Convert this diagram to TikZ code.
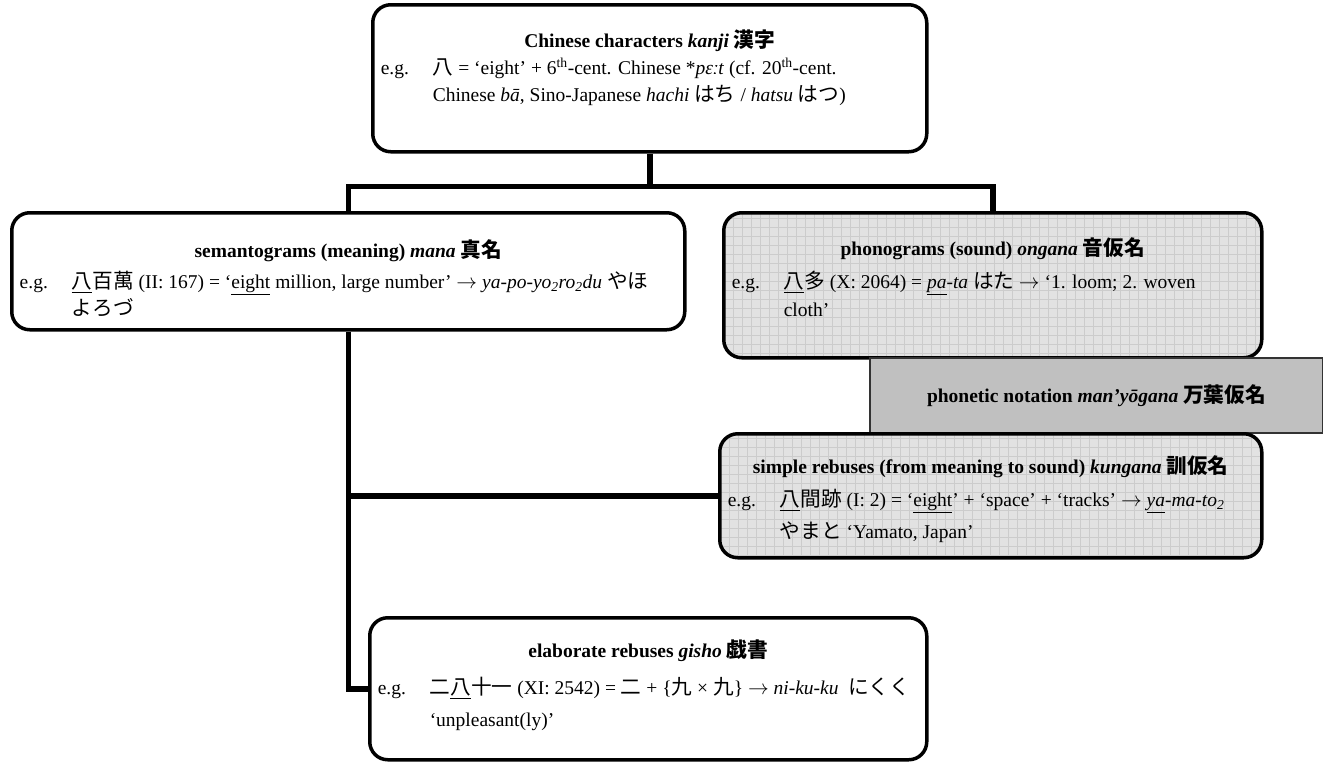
\documentclass[tikz,border=0pt]{standalone}
\usepackage{fontspec}
\setmainfont{Liberation Serif}
\newfontfamily\cjk[Scale=1.06]{Noto Sans CJK JP}
\usetikzlibrary{positioning,calc}

\definecolor{gridfill}{HTML}{E2E2E2}
\definecolor{gridline}{HTML}{CCCCCC}
\definecolor{notefill}{HTML}{C0C0C0}

\newcommand{\jp}[1]{{\cjk #1}}
\newcommand{\arr}{\ensuremath{\rightarrow}}
\newcommand{\eg}{\makebox[52pt][l]{e.g.}}
\newcommand{\ind}{\hspace*{52pt}}
% width, height, top pad, title gap, line skip, title, lines
\newcommand{\boxbody}[7]{%
  \parbox[c][#2][t]{#1}{\vspace*{#3}%
    {\noindent\makebox[\linewidth]{\bfseries\rule{0pt}{20pt}#6}\par}\vspace{#4}%
    {\raggedright\leftskip=8pt\baselineskip=#5 #7\par}}}

\tikzset{
  plainbox/.style={draw, line width=3.5pt, rounded corners=18pt, fill=white,
    anchor=north west, inner sep=0pt, font=\fontsize{19.5}{28}\selectfont},
  gridbox/.style={plainbox, fill=gridfill,
    path picture={\draw[gridline, line width=0.5pt, step=9pt]
      (path picture bounding box.south west) grid (path picture bounding box.north east);}},
  notebox/.style={draw=black!80, line width=2pt, fill=notefill, anchor=north west,
    inner sep=0pt, minimum width=453pt, minimum height=75pt,
    font=\fontsize{19.5}{28}\selectfont\bfseries},
  link/.style={line width=5.5pt}
}

\begin{document}
\begin{tikzpicture}[x=1pt,y=-1pt]
  \useasboundingbox (0,0) rectangle (1323,761);

  % boxes
  \node[plainbox] (kanji) at (371,3) {\boxbody{554pt}{147pt}{23pt}{0pt}{27pt}%
    {Chinese characters \textit{kanji} \jp{漢字}}%
    {\eg\jp{八} = ‘eight’ + 6\textsuperscript{th}-cent. Chinese *\textit{pɛːt} (cf. 20\textsuperscript{th}-cent.\\
     \ind Chinese \textit{bā}, Sino-Japanese \textit{hachi} \jp{はち} / \textit{hatsu} \jp{はつ})}};
  \node[plainbox] (mana) at (10,211) {\boxbody{673pt}{117pt}{25pt}{4pt}{27pt}%
    {semantograms (meaning) \textit{mana} \jp{真名}}%
    {\eg\underline{\jp{八}}\jp{百萬} (II: 167) = ‘\underline{eight} million, large number’ \arr\ \textit{ya-po-yo\textsubscript{2}ro\textsubscript{2}du} \jp{やほ}\\
     \ind\jp{よろづ}}};
  \node[gridbox] (ongana) at (722,211) {\boxbody{538pt}{145pt}{23pt}{5pt}{28pt}%
    {phonograms (sound) \textit{ongana} \jp{音仮名}}%
    {\eg\underline{\jp{八}}\jp{多} (X: 2064) = \textit{\underline{pa}-ta} \jp{はた} \arr\ ‘1. loom; 2. woven\\
     \ind cloth’}};
  \node[notebox] (manyo) at (869,357) {phonetic notation \textit{man’yōgana} \jp{万葉仮名}};
  \node[gridbox] (kungana) at (718,432) {\boxbody{542pt}{124pt}{20pt}{1pt}{32pt}%
    {simple rebuses (from meaning to sound) \textit{kungana} \jp{訓仮名}}%
    {\eg\underline{\jp{八}}\jp{間跡} (I: 2) = ‘\underline{eight}’ + ‘space’ + ‘tracks’ \arr\ \textit{\underline{ya}-ma-to\textsubscript{2}}\\
     \ind\jp{やまと} ‘Yamato, Japan’}};
  \node[plainbox] (gisho) at (368,616) {\boxbody{557pt}{142pt}{20pt}{5pt}{32pt}%
    {elaborate rebuses \textit{gisho} \jp{戯書}}%
    {\eg\jp{二}\underline{\jp{八}}\jp{十一} (XI: 2542) = \jp{二} + \{\jp{九} × \jp{九}\} \arr\ \textit{ni-ku-ku}\ \ \jp{にくく}\\
     \ind ‘unpleasant(ly)’}};

  % connectors
  \draw[link] (kanji.south) -- ++(0,33) coordinate (fork);
  \draw[link] (mana.north) |- (fork) -| (ongana.north);
  \draw[link] (mana.south) |- (gisho.west);
  \draw[link] (mana.south |- kungana.west) -- (kungana.west);
\end{tikzpicture}
\end{document}
